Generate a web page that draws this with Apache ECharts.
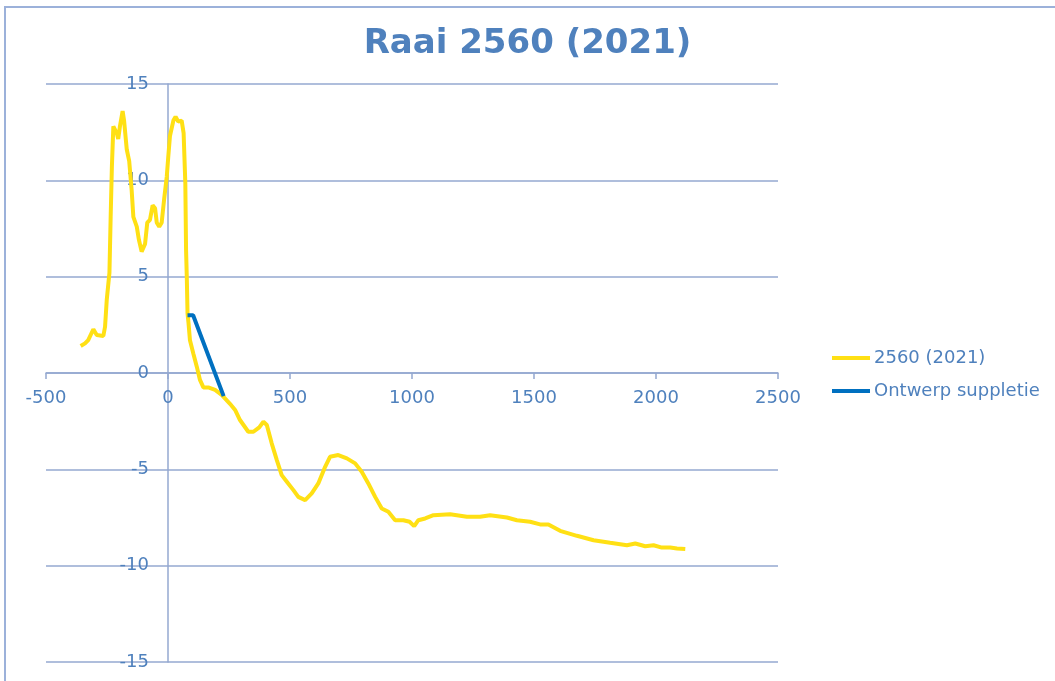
<!DOCTYPE html>
<html>
<head>
<meta charset="utf-8">
<script src="https://cdn.jsdelivr.net/npm/echarts@6/dist/echarts.min.js"></script>
<style>
  html, body { margin: 0; padding: 0; background: #fff; }
  #chart { width: 1055px; height: 681px; }
</style>
</head>
<body>
<div id="chart"></div>
<script>
// profiel 2560 (2021): afstand [m] en hoogte [m]
const profileX = [-358, -340, -327, -306, -292, -265, -258, -251, -240, -235, -230, -224, -217, -210, -204, -197, -186, -180, -169, -159,
  -149, -142, -128, -119, -108, -94, -85, -74, -63, -53, -46, -36, -26, -16, -5, 1, 8, 22, 31, 42,
  56, 60, 64, 68, 71, 74, 77, 80, 84, 90, 104, 118, 131, 145, 165, 193, 220, 254, 275, 295,
  329, 350, 374, 391, 405, 425, 446, 466, 487, 514, 534, 562, 589, 616, 644, 664, 698, 733, 767, 794,
  821, 849, 876, 903, 931, 965, 990, 1009, 1026, 1054, 1088, 1156, 1225, 1279, 1320, 1389, 1430, 1484, 1525, 1559,
  1607, 1676, 1744, 1812, 1881, 1915, 1956, 1990, 2024, 2058, 2086, 2120];
const profileZ = [1.40, 1.54, 1.71, 2.27, 1.97, 1.92, 2.4, 3.8, 5.2, 8.1, 10.7, 12.8, 12.9, 12.45, 12.15, 12.8, 13.6, 13.1, 11.6, 11.0,
  9.5, 8.1, 7.6, 6.9, 6.3, 6.7, 7.8, 7.95, 8.7, 8.55, 7.8, 7.6, 7.8, 9.0, 10.2, 11.2, 12.3, 13.1, 13.3, 13.05,
  13.1, 13.1, 12.45, 12.4, 9.85, 6.4, 5.0, 3.1, 2.6, 1.7, 1.0, 0.33, -0.36, -0.75, -0.75, -0.88, -1.14, -1.6, -1.92, -2.44,
  -3.05, -3.05, -2.82, -2.53, -2.7, -3.65, -4.52, -5.3, -5.64, -6.08, -6.43, -6.6, -6.25, -5.73, -4.87, -4.35, -4.26, -4.43, -4.69, -5.13,
  -5.73, -6.43, -7.03, -7.2, -7.64, -7.64, -7.72, -7.95, -7.64, -7.55, -7.38, -7.33, -7.46, -7.46, -7.38, -7.5, -7.64, -7.72, -7.86, -7.86,
  -8.19, -8.45, -8.68, -8.81, -8.94, -8.85, -8.99, -8.94, -9.06, -9.06, -9.11, -9.14];

// ontwerp suppletie
const designX = [80, 103, 228];
const designZ = [3.0, 3.0, -1.2];

const seriesNames = ["2560 (2021)", "Ontwerp suppletie"];
const xTicks = { min: -500, max: 2500, step: 500 };
const yTicks = { min: -15, max: 15, step: 5 };

const font = "DejaVu Sans";
const labelColor = "#4F81BD";
const lineColor = "#94A8D0";

function zip(xs, ys) {
  return xs.map((x, i) => [x, ys[i]]);
}

let chart = echarts.init(document.getElementById("chart"));
chart.setOption({
  animation: false,
  title: {
    text: "Raai 2560 (2021)",
    left: "center",
    top: 22,
    textStyle: { fontFamily: font, fontSize: 34, fontWeight: "bold", color: labelColor },
  },
  legend: {
    orient: "vertical",
    left: 827,
    top: 344,
    itemWidth: 38,
    itemHeight: 4,
    itemGap: 15,
    icon: "rect",
    data: seriesNames,
    textStyle: { fontFamily: font, fontSize: 18, color: labelColor, padding: [0, 0, 0, -1] },
  },
  grid: { left: 46, top: 84, width: 732, height: 578 },
  xAxis: {
    type: "value",
    min: xTicks.min,
    max: xTicks.max,
    interval: xTicks.step,
    splitLine: { show: false },
    axisLine: { onZero: true, lineStyle: { color: lineColor, width: 1.5 } },
    axisTick: { show: true, length: 6, lineStyle: { color: lineColor, width: 1.5 } },
    // labels sit just under the zero line, not under the grid
    axisLabel: { margin: -273, fontFamily: font, fontSize: 18, color: labelColor, formatter: (v) => String(v) },
  },
  yAxis: {
    type: "value",
    min: yTicks.min,
    max: yTicks.max,
    interval: yTicks.step,
    splitLine: { show: true, lineStyle: { color: lineColor, width: 1.5 } },
    axisLine: { show: true, onZero: true, lineStyle: { color: lineColor, width: 1.5 } },
    axisTick: { show: false },
    // labels next to the x=0 line
    axisLabel: { margin: -103, fontFamily: font, fontSize: 18, color: labelColor },
  },
  graphic: [
    {
      type: "polyline",
      shape: { points: [[5, 681], [5, 7], [1055, 7]] },
      style: { stroke: "#9CB1DA", lineWidth: 2, fill: null },
      silent: true,
    },
  ],
  series: [
    {
      name: seriesNames[0],
      type: "line",
      data: zip(profileX, profileZ),
      showSymbol: false,
      symbol: "none",
      lineStyle: { color: "#FFE014", width: 4 },
      itemStyle: { color: "#FFE014" },
      z: 2,
    },
    {
      name: seriesNames[1],
      type: "line",
      data: zip(designX, designZ),
      showSymbol: false,
      symbol: "none",
      lineStyle: { color: "#0070C0", width: 4 },
      itemStyle: { color: "#0070C0" },
      z: 3,
    },
  ],
});
</script>
</body>
</html>
